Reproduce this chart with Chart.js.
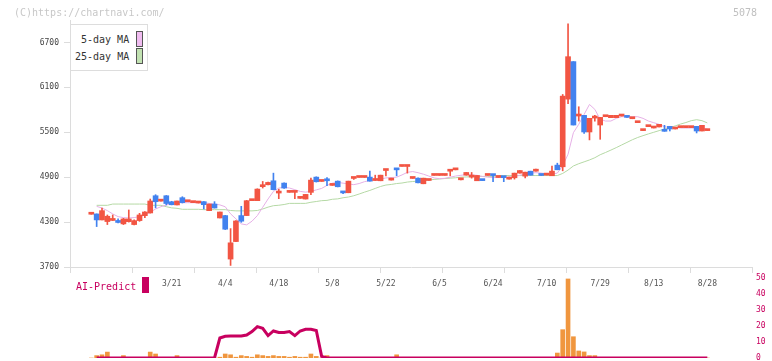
<!DOCTYPE html>
<html><head><meta charset="utf-8">
<script src="https://cdn.jsdelivr.net/npm/chart.js@4.4.1/dist/chart.umd.min.js"></script>
<style>
html,body{margin:0;padding:0;background:#fff;}
#wrap{position:relative;width:772px;height:361px;overflow:hidden;font-family:"DejaVu Sans Mono",monospace;}
canvas{position:absolute;left:0;top:0;}
.t{position:absolute;white-space:pre;font-size:10px;line-height:12px;}
.sw{position:absolute;box-sizing:border-box;border:1px solid #555;width:7px;height:16px;}
</style></head><body>
<div id="wrap">
<canvas id="c1" width="772" height="361"></canvas>
<canvas id="c2" width="772" height="361"></canvas>
<div class="t" style="left:14px;top:7px;color:#c8c8c8">(C)https://chartnavi.com/</div>
<div class="t" style="left:733px;top:7px;color:#c0c0c0">5078</div>
<div style="position:absolute;left:70px;top:24px;width:78px;height:47px;box-sizing:border-box;border:1px solid #ddd;background:#fff;"></div>
<div class="t" style="left:81px;top:34px;color:#333">5-day MA</div>
<div class="sw" style="left:136px;top:31px;background:#f0bcf0"></div>
<div class="t" style="left:75px;top:51px;color:#333">25-day MA</div>
<div class="sw" style="left:136px;top:48px;background:#c2e2b2"></div>
<div class="t" style="left:76px;top:281px;color:#c8005f">AI-Predict</div>
<div style="position:absolute;left:142px;top:277px;width:7px;height:16px;background:#c8005f"></div>
</div>
<script>
// ---- data ----
const opens  = [4405,4409,4329,4307,4322,4306,4276,4306,4267,4320,4386,4422,4652,4580,4652,4572,4529,4626,4572,4560,
                4555,4573,4453,4541,4355,4387,3806,4040,4387,4387,4586,4586,4773,4799,4852,4688,4821,4697,4697,4617,
                4608,4697,4901,4843,4867,4790,4847,4710,4692,4883,4896,4896,4901,4856,4852,4989,4861,5016,5043,5043,
                4883,4887,4812,4856,4923,4923,4923,4980,4998,4865,4927,4901,4852,4858,4923,4925,4896,4898,4874,4892,
                4954,4914,4980,4980,4937,4928,4919,5061,5039,5943,6444,5717,5726,5504,5690,5597,5708,5695,5695,5717,
                5717,5681,5628,5522,5575,5557,5571,5535,5579,5544,5562,5562,5562,5579,5517,5522];
const highs  = [4405,4409,4488,4395,4395,4342,4350,4462,4330,4417,4440,4608,4666,4580,4655,4578,4582,4639,4572,4560,
                4555,4575,4541,4573,4435,4390,4213,4320,4511,4590,4586,4745,4843,4834,4954,4740,4825,4697,4697,4617,
                4670,4887,4905,4843,4896,4790,4850,4710,4847,4883,4896,4896,4980,4927,4927,4989,4887,5016,5043,5043,
                4883,4890,4887,4856,4923,4923,4923,4980,4998,4865,4963,4963,4923,4858,4923,4925,4896,4898,4901,4954,
                4989,4967,4980,5007,4937,4928,5047,5087,6005,6949,6444,5841,5726,5686,5726,5699,5708,5726,5726,5717,
                5717,5681,5628,5522,5575,5579,5606,5593,5579,5566,5562,5562,5562,5579,5593,5522];
const lows   = [4405,4240,4329,4267,4320,4290,4267,4300,4262,4310,4360,4420,4490,4580,4529,4530,4529,4555,4572,4560,
                4555,4475,4453,4488,4355,4200,3721,4040,4297,4387,4586,4586,4755,4795,4730,4613,4750,4697,4613,4617,
                4608,4666,4835,4843,4785,4790,4770,4680,4692,4870,4896,4896,4847,4856,4852,4918,4861,4918,5043,4954,
                4883,4825,4812,4856,4923,4923,4923,4918,4998,4865,4927,4887,4852,4854,4923,4840,4896,4840,4874,4874,
                4954,4890,4927,4980,4923,4928,4919,4999,4985,5881,5597,5650,5486,5398,5650,5406,5708,5695,5695,5717,
                5699,5681,5628,5522,5575,5557,5571,5513,5517,5544,5562,5562,5562,5491,5517,5522];
const closes = [4405,4329,4453,4378,4340,4295,4342,4342,4320,4395,4435,4582,4572,4580,4548,4532,4582,4560,4572,4560,
                4555,4533,4541,4488,4435,4205,4023,4315,4312,4586,4586,4741,4773,4830,4733,4688,4755,4697,4697,4617,
                4670,4861,4839,4843,4852,4790,4772,4690,4847,4883,4896,4896,4847,4856,4927,4989,4887,4998,5043,5043,
                4883,4825,4887,4856,4923,4923,4923,4980,4998,4865,4963,4901,4923,4854,4923,4921,4896,4894,4901,4954,
                4989,4967,4927,5007,4923,4928,4981,4999,5983,6510,5597,5717,5504,5686,5690,5699,5708,5726,5726,5717,
                5699,5681,5628,5522,5575,5579,5606,5513,5544,5566,5562,5562,5562,5517,5593,5522];
const ma5    = [null,4510,4488,4453,4409,4373,4360,4355,4360,4373,4395,4431,4475,4506,4528,4550,4559,4559,4559,4559,
                4559,4559,4550,4540,4530,4505,4410,4343,4276,4263,4312,4387,4498,4609,4710,4755,4764,4755,4733,4710,
                4700,4710,4730,4750,4790,4820,4830,4820,4810,4800,4815,4840,4855,4860,4875,4890,4895,4900,4930,4965,
                4975,4960,4940,4915,4890,4880,4885,4900,4915,4925,4935,4930,4925,4910,4900,4895,4895,4895,4900,4910,
                4925,4945,4955,4960,4955,4945,4940,4955,5052,5207,5495,5606,5739,5872,5806,5673,5650,5650,5686,5708,
                5708,5708,5708,5686,5650,5628,5606,5575,5562,5566,5557,5557,5557,5557,5544,5544];
const ma25   = [null,4524,4524,4524,4541,4541,4541,4541,4541,4541,4541,4524,4524,4524,4506,4490,4484,4471,4471,4471,
                4471,4466,4466,4466,4466,4466,4455,4450,4450,4450,4450,4455,4475,4500,4519,4525,4535,4550,4550,4550,
                4550,4565,4575,4586,4590,4605,4610,4625,4635,4652,4675,4700,4723,4750,4776,4795,4803,4815,4822,4835,
                4842,4847,4855,4863,4870,4876,4882,4887,4892,4900,4903,4906,4910,4910,4910,4910,4922,4922,4922,4922,
                4922,4922,4922,4922,4922,4922,4922,4922,4950,4995,5050,5080,5105,5130,5160,5200,5230,5262,5295,5330,
                5365,5400,5430,5455,5478,5500,5522,5542,5562,5585,5610,5630,5655,5668,5655,5625];
const volume = [0,1.5,2,3.7,0,0,1.5,0,0,0,0,3.7,2.5,0,0,0,1.5,0,0,0,
                0,0,0,0,0.5,2.5,2,0.5,1.5,1,0.5,2,1.5,1,1.5,1,1,0.5,1,0.5,
                0.5,2.5,1,0,1.5,0,0,0,0,0,0,0,0,0,0,0,0,2,0,0,
                0,0,0,0,0,0,0,0,0,0,0,0,0,0,0,0,0,0,0,0,
                0,0,0,0,0,0,0,3.1,17.7,49.4,13.3,4.4,3.8,1.5,1.5,0,0,0,0,0,
                0,0,0,0,0,0,0,0,0,0,0,0,0,0,0,0];
const aiPredict = [null,0,0,0,0,0,0,0,0,0,0,0,0,0,0,0,0,0,0,0,
                0,0,0,0,12.5,13.6,13.75,13.75,13.75,14.4,16.5,19.6,18.5,14,16.9,15.9,15.9,16.5,14,16.9,
                18,18,17.2,1,0,0,0,0,0,0,0,0,0,0,0,0,0,0,0,0,
                0,0,0,0,0,0,0,0,0,0,0,0,0,0,0,0,0,0,0,0,
                0,0,0,0,0,0,0,0,0,0,0,0,0,0,0,0,0,0,0,0,
                0,0,0,0,0,0,0,0,0,0,0,0,0,0,0,0];
const dateLabels = ['3/21','4/4','4/18','5/8','5/22','6/5','6/24','7/10','7/29','8/13','8/28'];
const dateIndex  = [15,25,35,45,55,65,75,85,95,105,115];
const priceTicks = [3700,4300,4900,5500,6100,6700];
const predTicks  = [0,10,20,30,40,50];

// ---- styling ----
const RED = '#f25543', BLUE = '#4282ef', PINK = '#e6b0e6', GREEN = '#b5d9a5', ORANGE = '#f0963e', MAG = '#c8005f';
const FONT = 'DejaVu Sans Mono';
const XMIN = -3.976, XMAX = 123.34;
Chart.defaults.font.family = FONT;

const idx = closes.map((_, i) => i);
const up = idx.map(i => closes[i] >= opens[i]);
const candleColors = up.map(u => u ? RED : BLUE);
const wickData = idx.map(i => ({x: i, y: [lows[i], highs[i]]}));
const bodyData = idx.map(i => ({x: i, y: [Math.min(opens[i], closes[i]), Math.max(opens[i], closes[i])]}));
const pts = arr => arr.map((v, i) => ({x: i, y: v}));

new Chart(document.getElementById('c1'), {
  type: 'bar',
  data: {
    datasets: [
      {label: 'body', data: bodyData, backgroundColor: candleColors, barThickness: 5, minBarLength: 2, grouped: false, order: 0, borderWidth: 0},
      {label: 'wick', data: wickData, backgroundColor: candleColors, barThickness: 1, grouped: false, order: 1, borderWidth: 0},
      {type: 'line', label: '5-day MA', data: pts(ma5), borderColor: PINK, borderWidth: 1, pointRadius: 0, tension: 0, order: 2},
      {type: 'line', label: '25-day MA', data: pts(ma25), borderColor: GREEN, borderWidth: 1, pointRadius: 0, tension: 0, order: 3}
    ]
  },
  options: {
    responsive: false, animation: false, events: [],
    layout: {padding: {left: 0, right: 20, top: 20, bottom: 0}},
    plugins: {legend: {display: false}, tooltip: {enabled: false}},
    scales: {
      x: {type: 'linear', min: XMIN, max: XMAX, offset: false, position: 'bottom', weight: 0,
          grid: {display: true, drawOnChartArea: false, drawTicks: true, tickLength: 6, color: '#dcdcdc', offset: false},
          border: {display: true, color: '#dcdcdc', width: 1},
          ticks: {display: false},
          afterBuildTicks: s => { const t = []; for (let k = 0; k <= 11; k++) t.push({value: XMIN + k * (XMAX - XMIN) / 11}); s.ticks = t; },
          afterFit: s => { s.height = 6; }},
      xl: {type: 'linear', min: XMIN, max: XMAX, offset: false, position: 'bottom', weight: 1,
          grid: {display: false, drawTicks: false}, border: {display: false},
          ticks: {color: '#555', font: {family: FONT, size: 8}, padding: 6, autoSkip: false, maxRotation: 0,
                  callback: v => { const k = dateIndex.indexOf(v); return k >= 0 ? dateLabels[k] : ''; }},
          afterBuildTicks: s => { s.ticks = dateIndex.map(v => ({value: v})); },
          afterFit: s => { s.height = 88; }},
      y: {type: 'linear', min: 3700, max: 7000, position: 'left',
          grid: {drawOnChartArea: false, drawTicks: true, tickLength: 6, color: '#dcdcdc'},
          border: {display: true, color: '#dcdcdc', width: 1},
          ticks: {color: '#444', font: {family: FONT, size: 8}, padding: 5, callback: v => String(v)},
          afterBuildTicks: s => { s.ticks = priceTicks.map(v => ({value: v})); },
          afterFit: s => { s.width = 70; s.paddingTop = 0; s.paddingBottom = 0; }}
    }
  }
});

new Chart(document.getElementById('c2'), {
  type: 'bar',
  data: {
    datasets: [
      {type: 'line', label: 'AI-Predict', data: pts(aiPredict), borderColor: MAG, borderWidth: 3, pointRadius: 0, tension: 0, order: 0},
      {label: 'bars', data: pts(volume), backgroundColor: ORANGE, barThickness: 4, borderWidth: 0, order: 1}
    ]
  },
  options: {
    responsive: false, animation: false, events: [],
    layout: {padding: {left: 70, right: 0, top: 278, bottom: 3}},
    plugins: {legend: {display: false}, tooltip: {enabled: false}},
    scales: {
      x: {type: 'linear', min: XMIN, max: XMAX, offset: false, display: false},
      y: {type: 'linear', min: 0, max: 50, position: 'right',
          grid: {display: false, drawTicks: false}, border: {display: false},
          ticks: {color: MAG, font: {family: FONT, size: 8}, padding: 4, callback: v => String(v)},
          afterBuildTicks: s => { s.ticks = predTicks.map(v => ({value: v})); },
          afterFit: s => { s.width = 20; s.paddingTop = 0; s.paddingBottom = 0; }}
    }
  }
});
</script>
</body></html>
